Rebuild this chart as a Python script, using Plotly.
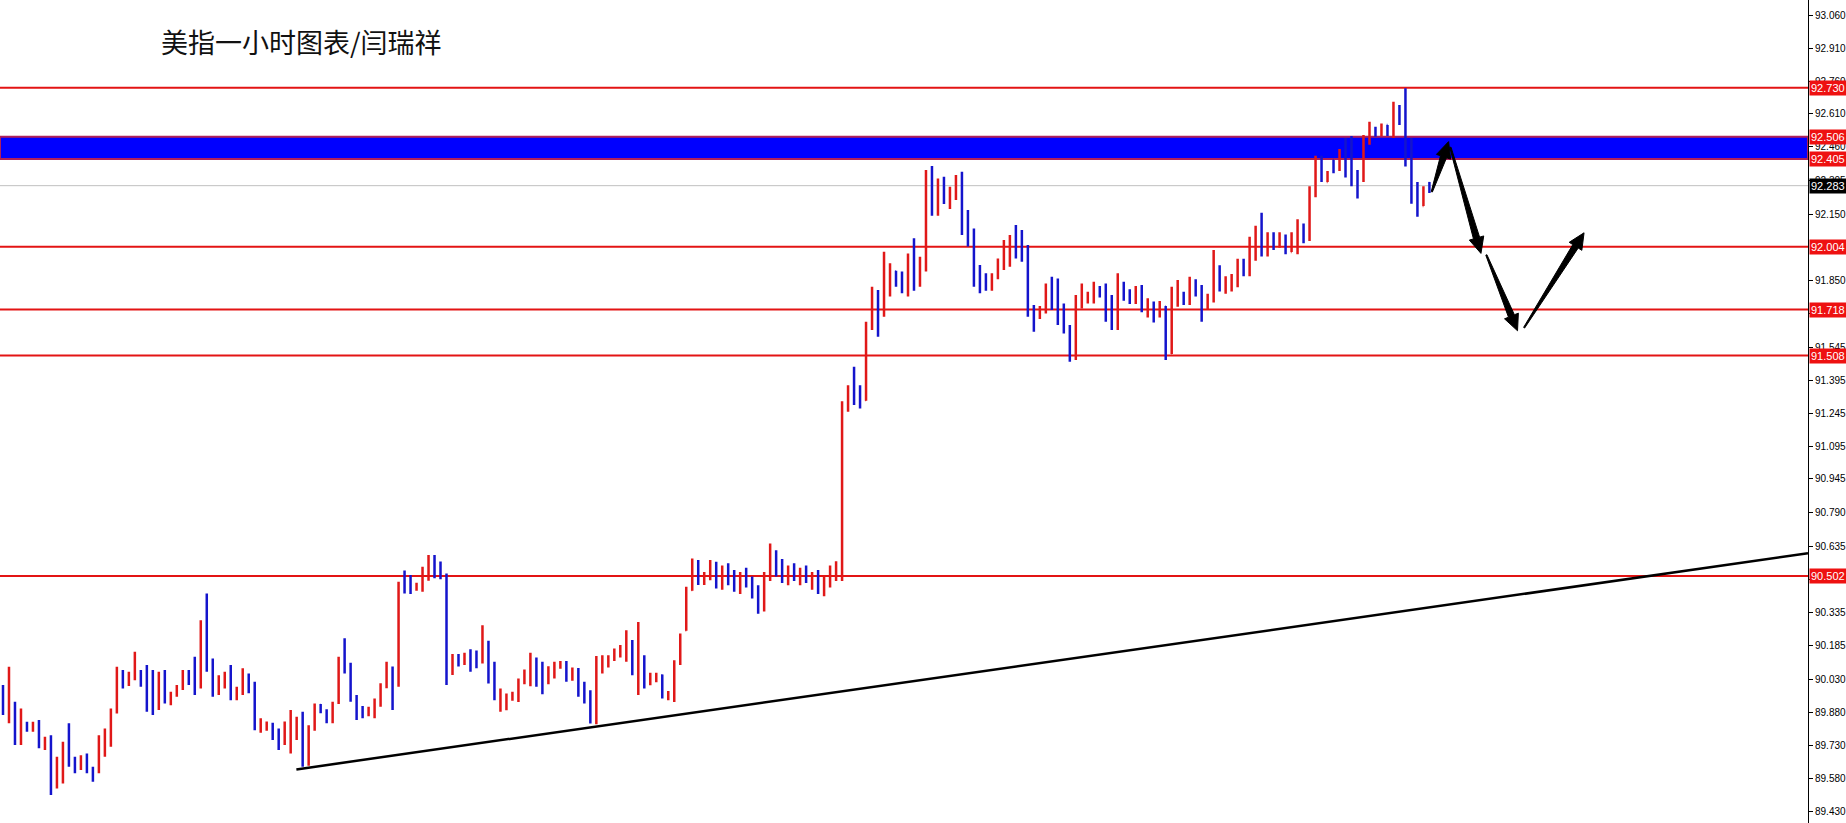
import plotly.graph_objects as go

opens = [
    89.997, 89.860, 89.906, 89.769, 89.830, 89.802, 89.837, 89.731, 89.769, 89.556,
    89.602, 89.784, 89.662, 89.640, 89.678, 89.624, 89.609, 89.700, 89.799, 89.906,
    90.058, 90.012, 90.050, 90.065, 90.043, 90.058, 89.936, 90.050, 89.929, 89.959,
    89.997, 90.058, 90.104, 90.012, 90.393, 90.119, 89.974, 90.005, 90.081, 89.944,
    89.997, 90.051, 89.990, 89.799, 89.807, 89.827, 89.769, 89.739, 89.724, 89.799,
    89.868, 89.647, 89.807, 89.914, 89.883, 89.845, 89.929, 90.165, 90.096, 89.952,
    89.898, 89.873, 89.876, 89.914, 89.997, 90.081, 90.020, 90.484, 90.499, 90.441,
    90.454, 90.487, 90.590, 90.507, 90.507, 90.073, 90.134, 90.104, 90.157, 90.142,
    90.118, 90.134, 90.103, 89.898, 89.898, 89.943, 89.951, 90.020, 90.020, 90.118,
    90.073, 90.020, 90.073, 90.088, 90.106, 90.030, 90.065, 90.012, 89.974, 89.860,
    90.111, 90.103, 90.121, 90.141, 90.134, 90.202, 89.997, 90.134, 90.020, 90.027,
    90.050, 89.959, 89.943, 90.103, 90.255, 90.438, 90.567, 90.476, 90.491, 90.544,
    90.47, 90.52, 90.48, 90.45, 90.50, 90.47, 90.42, 90.36, 90.50, 90.60,
    90.53, 90.50, 90.52, 90.49, 90.52, 90.48, 90.50, 90.45, 90.48, 90.52,
    90.50, 91.275, 91.351, 91.320, 91.305, 91.640, 91.777, 91.700, 91.807, 91.891,
    91.830, 91.807, 91.929, 91.929, 91.898, 92.210, 92.195, 92.263, 92.187, 92.240,
    92.339, 92.164, 92.066, 91.913, 91.853, 91.810, 91.868, 91.936, 91.974, 92.020,
    92.066, 92.005, 91.731, 91.682, 91.708, 91.845, 91.853, 91.739, 91.632, 91.503,
    91.769, 91.777, 91.758, 91.807, 91.830, 91.754, 91.655, 91.837, 91.799, 91.754,
    91.792, 91.716, 91.746, 91.693, 91.731, 91.518, 91.777, 91.792, 91.754, 91.850,
    91.822, 91.74, 91.78, 91.90, 91.83, 91.85, 91.84, 91.93, 91.90, 91.98,
    92.08, 91.97, 92.04, 92.02, 92.05, 91.98, 92.02, 92.10, 92.04, 92.25,
    92.40, 92.30, 92.40, 92.36, 92.42, 92.36, 92.34, 92.31, 92.48, 92.54,
    92.52, 92.56, 92.52, 92.62, 92.62, 92.45, 92.26, 92.19, 92.295,
]
highs = [
    90.005, 90.088, 89.929, 89.898, 89.837, 89.837, 89.845, 89.769, 89.776, 89.678,
    89.746, 89.830, 89.678, 89.685, 89.693, 89.632, 89.776, 89.807, 89.898, 90.088,
    90.073, 90.065, 90.157, 90.073, 90.096, 90.073, 90.065, 90.073, 89.974, 90.005,
    90.073, 90.073, 90.134, 90.301, 90.423, 90.126, 90.050, 90.065, 90.096, 89.997,
    90.081, 90.058, 90.020, 89.853, 89.838, 89.833, 89.807, 89.838, 89.891, 89.860,
    89.883, 89.822, 89.921, 89.918, 89.894, 89.929, 90.134, 90.218, 90.107, 89.959,
    89.909, 89.906, 89.944, 90.013, 90.111, 90.089, 90.476, 90.527, 90.507, 90.472,
    90.545, 90.598, 90.598, 90.568, 90.514, 90.146, 90.146, 90.152, 90.168, 90.162,
    90.278, 90.207, 90.111, 89.989, 89.966, 89.974, 90.035, 90.076, 90.152, 90.131,
    90.111, 90.091, 90.111, 90.114, 90.114, 90.085, 90.083, 90.020, 89.981, 90.137,
    90.141, 90.141, 90.172, 90.187, 90.255, 90.210, 90.293, 90.141, 90.061, 90.061,
    90.053, 89.978, 90.118, 90.240, 90.453, 90.582, 90.575, 90.521, 90.575, 90.567,
    90.55, 90.56, 90.53, 90.52, 90.54, 90.50, 90.46, 90.52, 90.65, 90.62,
    90.58, 90.55, 90.56, 90.54, 90.55, 90.52, 90.53, 90.50, 90.55, 90.57,
    91.30, 91.373, 91.457, 91.373, 91.662, 91.822, 91.807, 91.982, 91.929, 91.895,
    91.891, 91.974, 92.043, 91.959, 92.355, 92.373, 92.316, 92.324, 92.278, 92.332,
    92.347, 92.172, 92.088, 91.921, 91.883, 91.883, 91.951, 92.035, 92.058, 92.104,
    92.081, 92.012, 91.739, 91.734, 91.837, 91.868, 91.860, 91.746, 91.647, 91.784,
    91.837, 91.799, 91.845, 91.825, 91.837, 91.784, 91.883, 91.845, 91.810, 91.825,
    91.830, 91.769, 91.754, 91.757, 91.734, 91.822, 91.853, 91.799, 91.868, 91.856,
    91.830, 91.79, 91.99, 91.92, 91.87, 91.88, 91.95, 91.95, 92.05, 92.10,
    92.16, 92.07, 92.07, 92.07, 92.06, 92.07, 92.13, 92.11, 92.28, 92.42,
    92.42, 92.35, 92.40, 92.45, 92.50, 92.51, 92.355, 92.514, 92.575, 92.552,
    92.567, 92.56, 92.666, 92.651, 92.727, 92.50, 92.30, 92.28, 92.30,
]
lows = [
    89.868, 89.830, 89.731, 89.731, 89.792, 89.792, 89.716, 89.708, 89.503, 89.533,
    89.556, 89.632, 89.602, 89.617, 89.602, 89.564, 89.602, 89.678, 89.723, 89.875,
    89.989, 90.000, 90.027, 89.997, 89.883, 89.868, 89.891, 89.921, 89.913, 89.951,
    89.982, 90.005, 89.959, 89.989, 90.065, 89.951, 89.959, 89.989, 89.936, 89.936,
    89.959, 89.967, 89.799, 89.787, 89.796, 89.754, 89.708, 89.731, 89.693, 89.754,
    89.632, 89.637, 89.796, 89.876, 89.830, 89.830, 89.918, 90.058, 89.929, 89.845,
    89.853, 89.863, 89.853, 89.906, 89.990, 89.891, 89.997, 90.423, 90.420, 90.435,
    90.431, 90.481, 90.492, 90.487, 90.005, 90.051, 90.089, 90.096, 90.066, 90.081,
    90.103, 90.012, 89.936, 89.883, 89.890, 89.933, 89.928, 90.009, 89.999, 89.997,
    89.963, 90.009, 90.035, 90.079, 90.020, 90.024, 89.951, 89.921, 89.829, 89.826,
    90.058, 90.085, 90.115, 90.131, 90.111, 90.050, 89.959, 89.989, 90.004, 90.018,
    89.943, 89.936, 89.928, 90.096, 90.252, 90.435, 90.461, 90.461, 90.483, 90.445,
    90.44, 90.46, 90.43, 90.42, 90.45, 90.40, 90.33, 90.34, 90.48, 90.50,
    90.47, 90.46, 90.48, 90.46, 90.47, 90.44, 90.42, 90.41, 90.45, 90.48,
    90.48, 91.252, 91.282, 91.267, 91.302, 91.624, 91.594, 91.685, 91.777, 91.822,
    91.792, 91.777, 91.804, 91.822, 91.891, 92.146, 92.146, 92.199, 92.177, 92.218,
    92.058, 92.005, 91.822, 91.792, 91.804, 91.804, 91.856, 91.898, 91.913, 91.951,
    91.936, 91.685, 91.617, 91.675, 91.700, 91.716, 91.647, 91.609, 91.480, 91.488,
    91.723, 91.746, 91.746, 91.773, 91.662, 91.624, 91.624, 91.758, 91.743, 91.743,
    91.705, 91.682, 91.659, 91.682, 91.488, 91.515, 91.731, 91.739, 91.739, 91.777,
    91.662, 91.72, 91.75, 91.80, 91.79, 91.80, 91.82, 91.87, 91.87, 91.94,
    91.96, 91.96, 91.99, 92.00, 91.97, 91.98, 91.97, 92.02, 92.03, 92.23,
    92.30, 92.30, 92.34, 92.35, 92.32, 92.28, 92.225, 92.30, 92.47, 92.506,
    92.51, 92.51, 92.50, 92.56, 92.37, 92.20, 92.141, 92.19, 92.25,
]
closes = [
    89.883, 89.906, 89.784, 89.860, 89.799, 89.830, 89.731, 89.754, 89.556, 89.662,
    89.723, 89.662, 89.640, 89.670, 89.624, 89.579, 89.761, 89.792, 89.883, 90.065,
    90.012, 90.058, 90.104, 90.012, 89.936, 89.951, 90.035, 89.936, 89.967, 89.997,
    90.065, 90.027, 89.982, 90.271, 90.088, 89.967, 90.035, 90.050, 89.951, 89.982,
    90.043, 89.982, 89.815, 89.815, 89.827, 89.766, 89.731, 89.815, 89.845, 89.838,
    89.647, 89.807, 89.906, 89.883, 89.845, 89.918, 90.119, 90.104, 89.937, 89.898,
    89.868, 89.898, 89.937, 89.997, 90.089, 89.997, 90.454, 90.476, 90.469, 90.461,
    90.484, 90.575, 90.507, 90.499, 90.089, 90.127, 90.104, 90.142, 90.119, 90.096,
    90.194, 90.027, 89.951, 89.936, 89.951, 89.966, 90.020, 90.058, 90.134, 90.020,
    89.989, 90.080, 90.103, 90.096, 90.035, 90.065, 89.966, 89.936, 89.875, 90.118,
    90.126, 90.131, 90.149, 90.156, 90.179, 90.073, 90.240, 90.035, 90.050, 90.050,
    89.959, 89.966, 90.103, 90.225, 90.438, 90.544, 90.476, 90.499, 90.537, 90.468,
    90.52, 90.48, 90.45, 90.50, 90.47, 90.42, 90.36, 90.50, 90.60, 90.53,
    90.50, 90.52, 90.49, 90.52, 90.48, 90.50, 90.45, 90.48, 90.52, 90.53,
    91.25, 91.335, 91.305, 91.297, 91.640, 91.716, 91.670, 91.898, 91.898, 91.837,
    91.807, 91.951, 91.837, 91.936, 92.324, 92.172, 92.294, 92.210, 92.263, 92.301,
    92.081, 92.035, 91.837, 91.845, 91.822, 91.868, 91.936, 92.020, 92.035, 91.974,
    91.959, 91.708, 91.678, 91.723, 91.799, 91.731, 91.685, 91.624, 91.503, 91.761,
    91.807, 91.780, 91.807, 91.784, 91.685, 91.662, 91.837, 91.777, 91.769, 91.815,
    91.723, 91.746, 91.700, 91.746, 91.510, 91.807, 91.830, 91.761, 91.853, 91.822,
    91.716, 91.78, 91.90, 91.83, 91.85, 91.86, 91.93, 91.90, 92.02, 92.08,
    91.99, 92.04, 92.03, 92.04, 91.99, 92.04, 92.10, 92.04, 92.25, 92.37,
    92.33, 92.34, 92.35, 92.42, 92.35, 92.30, 92.24, 92.49, 92.55, 92.52,
    92.55, 92.52, 92.63, 92.58, 92.40, 92.25, 92.21, 92.26, 92.283,
]

tick_values = [93.060, 92.910, 92.760, 92.610, 92.460, 92.305, 92.150,
               91.850, 91.700, 91.545, 91.395, 91.245, 91.095, 90.945, 90.790,
               90.635, 90.485, 90.335, 90.185, 90.030, 89.880, 89.730, 89.580, 89.430]
tick_labels = ["%.3f" % v for v in tick_values]

red_levels = [92.730, 92.004, 91.718, 91.508, 90.502]
band_low, band_high = 92.405, 92.506
label_levels = [92.730, 92.506, 92.405, 92.004, 91.718, 91.508, 90.502]
current_price = 92.283

trend_x = [48.95, 301.17]
trend_y = [89.620, 90.606]

arrow_tail_x = [238.4, 241.5, 247.5, 253.8]
arrow_tail_y = [92.255, 92.458, 91.967, 91.635]
arrow_head_x = [241.2, 246.6, 252.7, 263.8]
arrow_head_y = [92.484, 91.974, 91.621, 92.068]

title_text = "美指一小时图表/闫瑞祥"

W, H = 1846, 823
PLOT_W = 1810
BAR_PX = 6
Y_MIN, Y_MAX = 89.3755, 93.130
X_MIN, X_MAX = -0.5, PLOT_W / BAR_PX - 0.5
RED = "#e31414"

# pixel <-> data helpers (plot area spans the full height)
PX_PER_X = PLOT_W / (X_MAX - X_MIN)
PX_PER_Y = H / (Y_MAX - Y_MIN)


def to_px(x, y):
    return ((x - X_MIN) * PX_PER_X, (Y_MAX - y) * PX_PER_Y)


def to_data(px, py):
    return (px / PX_PER_X + X_MIN, Y_MAX - py / PX_PER_Y)


def arrow_path(tx, ty, hx, hy, tail_w=0.6, shaft_w=3.2, head_w=7.5, head_len=16):
    (x0, y0), (x1, y1) = to_px(tx, ty), to_px(hx, hy)
    dx, dy = x1 - x0, y1 - y0
    L = (dx * dx + dy * dy) ** 0.5
    ux, uy = dx / L, dy / L
    nx, ny = -uy, ux
    bx, by = x1 - ux * head_len, y1 - uy * head_len
    pts = [
        (x0 + nx * tail_w, y0 + ny * tail_w),
        (bx + nx * shaft_w, by + ny * shaft_w),
        (bx + nx * head_w, by + ny * head_w),
        (x1, y1),
        (bx - nx * head_w, by - ny * head_w),
        (bx - nx * shaft_w, by - ny * shaft_w),
        (x0 - nx * tail_w, y0 - ny * tail_w),
    ]
    d = []
    for i, (px, py) in enumerate(pts):
        X, Y = to_data(px, py)
        d.append(("M" if i == 0 else "L") + "%.4f,%.5f" % (X, Y))
    return " ".join(d) + " Z"


idx = list(range(len(opens)))

fig = go.Figure()
fig.add_trace(go.Ohlc(
    x=idx, open=opens, high=highs, low=lows, close=closes,
    increasing=dict(line=dict(color="#e01818", width=2.5)),
    decreasing=dict(line=dict(color="#1414cc", width=2.5)),
    tickwidth=0.12, hoverinfo="skip", showlegend=False,
))

shapes = []
shapes.append(dict(type="rect", xref="paper", yref="y", x0=0, x1=1,
                   y0=band_low, y1=band_high, fillcolor="#0000ff",
                   line=dict(color="#b0205a", width=2), layer="below"))
for v in red_levels:
    shapes.append(dict(type="line", xref="paper", yref="y", x0=0, x1=1, y0=v, y1=v,
                       line=dict(color=RED, width=2), layer="below"))
shapes.append(dict(type="line", xref="paper", yref="y", x0=0, x1=1,
                   y0=current_price, y1=current_price,
                   line=dict(color="#c0c0c0", width=1), layer="below"))
shapes.append(dict(type="line", xref="x", yref="y", x0=trend_x[0], x1=trend_x[1],
                   y0=trend_y[0], y1=trend_y[1], line=dict(color="black", width=2.5)))
for tx, ty, hx, hy in zip(arrow_tail_x, arrow_tail_y, arrow_head_x, arrow_head_y):
    shapes.append(dict(type="path", xref="x", yref="y", path=arrow_path(tx, ty, hx, hy),
                       fillcolor="black", line=dict(color="black", width=1)))

annotations = []
annotations.append(dict(text=title_text, xref="paper", yref="paper",
                        x=159 / PLOT_W, y=1 - 41 / H, xanchor="left", yanchor="middle",
                        showarrow=False,
                        font=dict(family="Noto Sans CJK SC", size=27, color="#111111")))
for v in label_levels:
    annotations.append(dict(text="%.3f" % v, xref="paper", yref="y", x=1, y=v,
                            xanchor="left", yanchor="middle", xshift=1, showarrow=False,
                            bgcolor="#ee1111", borderpad=1,
                            font=dict(family="Liberation Sans", size=11, color="white")))
annotations.append(dict(text="%.3f" % current_price, xref="paper", yref="y", x=1,
                        y=current_price, xanchor="left", yanchor="middle", xshift=1,
                        showarrow=False, bgcolor="black", borderpad=1,
                        font=dict(family="Liberation Sans", size=11, color="white")))

fig.update_layout(
    width=W, height=H,
    margin=dict(l=0, r=W - PLOT_W, t=0, b=0),
    paper_bgcolor="white", plot_bgcolor="white",
    shapes=shapes, annotations=annotations,
    xaxis=dict(range=[X_MIN, X_MAX], visible=False,
               rangeslider=dict(visible=False), fixedrange=True),
    yaxis=dict(range=[Y_MIN, Y_MAX], side="right", tickmode="array",
               tickvals=tick_values, ticktext=tick_labels, ticks="outside",
               ticklen=4, tickcolor="black", showline=True, linecolor="black",
               linewidth=1, showgrid=False, zeroline=False,
               tickfont=dict(family="Liberation Sans", size=10, color="black")),
)

fig.write_html("out.html", config={"displayModeBar": False},
               post_script="document.body.style.margin='0';")
